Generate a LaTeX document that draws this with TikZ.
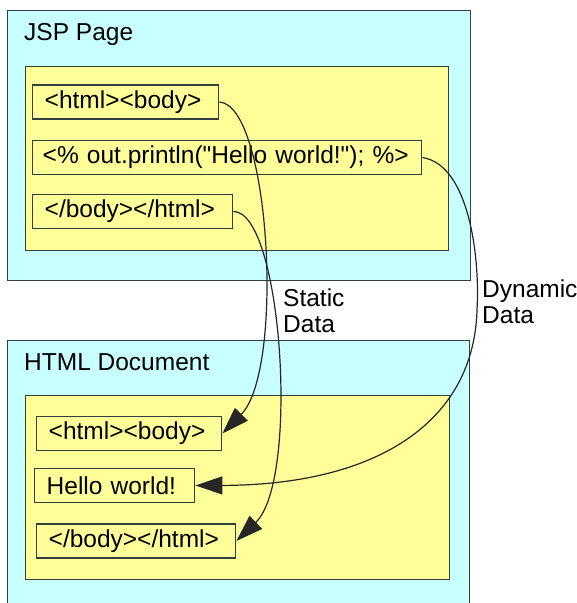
\documentclass[tikz,border=0pt]{standalone}
\usepackage{fontspec}
\setmainfont{Liberation Sans}
\usetikzlibrary{arrows.meta}
\definecolor{pagecyan}{HTML}{C8FFFF}
\definecolor{panelyellow}{HTML}{FFFF99}
\definecolor{edgegray}{HTML}{333F3F}
\tikzset{
  pagebox/.style={draw=edgegray, line width=1.4pt, fill=pagecyan, anchor=north west, inner sep=0pt},
  panel/.style={draw=edgegray, line width=1.4pt, fill=panelyellow, anchor=north west, inner sep=0pt},
  tagbox/.style={draw=edgegray, line width=1.4pt, fill=panelyellow, anchor=west, minimum height=34pt, inner xsep=12pt, inner ysep=0pt, align=left},
  heading/.style={anchor=base west, inner sep=0pt},
  flowarrow/.style={-{Triangle[length=27pt, width=18pt]}, line width=1.2pt, draw=black!85},
  sidelabel/.style={anchor=base west, inner sep=0pt, align=left}
}
\begin{document}
\begin{tikzpicture}[x=1pt, y=-1pt, every node/.style={font=\fontsize{24.5}{25.5}\selectfont}]
  \useasboundingbox (0,0) rectangle (577,603);

  % the JSP source
  \node[pagebox, minimum width=463pt, minimum height=270pt] (jsp) at (7,10) {};
  \node[heading] (jsptitle) at (24,40) {JSP Page};
  \node[panel, minimum width=423pt, minimum height=184pt] (jspin) at (25,66) {};
  \node[tagbox, text width=162pt] (src1) at (32,102) {<html><body>};
  \node[tagbox, inner xsep=10pt, text width=369pt] (src2) at (32,157.5) {<\% out.println(\textquotedbl Hello world!\textquotedbl); \%>};
  \node[tagbox, text width=176pt] (src3) at (32,211.5) {</body></html>};

  % the generated page
  \node[pagebox, minimum width=462pt, minimum height=270pt] (doc) at (7,340) {};
  \node[heading] (doctitle) at (24,370) {HTML Document};
  \node[panel, minimum width=424pt, minimum height=184pt] (docin) at (25,395) {};
  \node[tagbox, text width=161pt] (out1) at (36,433.5) {<html><body>};
  \node[tagbox, text width=136pt] (out2) at (34,485.5) {Hello world!};
  \node[tagbox, text width=175pt] (out3) at (36,541) {</body></html>};

  % base of the last line
  \node[sidelabel] (static) at (283,332) {Static\\Data};
  \node[sidelabel] (dynamic) at (482,323) {Dynamic\\Data};

  % static parts are copied, the scriptlet prints its text
  \coordinate (bend) at (477,310);
  \draw[flowarrow] (src1.east) .. controls (270,105) and (285,370) .. (out1.east);
  \draw[flowarrow] (src3.east) .. controls (282,211) and (300,480) .. (out3.east);
  \draw[flowarrow] (src2.east) .. controls (470,165) and (480,260) .. (bend)
    .. controls (474,420) and (380,485) .. (out2.east);
\end{tikzpicture}
\end{document}
